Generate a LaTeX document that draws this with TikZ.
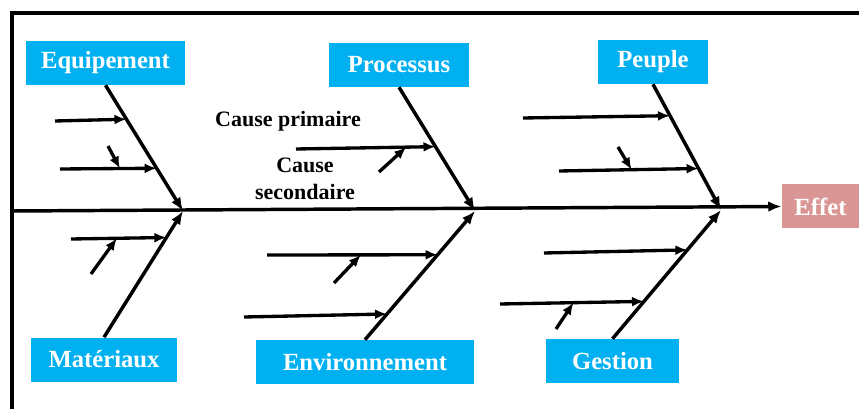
\documentclass[tikz,border=0pt]{standalone}
\usepackage{fontspec}
\setmainfont{Liberation Serif}
\usetikzlibrary{arrows.meta}

\definecolor{boxblue}{HTML}{00B0F0}
\definecolor{effetrose}{HTML}{D99694}

\tikzset{
  catbox/.style={fill=boxblue, text=white, font=\bfseries\fontsize{18.5}{20}\selectfont,
    minimum height=33pt, inner sep=0pt},
  effetbox/.style={catbox, fill=effetrose},
  bone/.style={line width=2.6pt, -{Latex[length=10pt,width=8pt]}},
  cause/.style={line width=2.5pt, -{Latex[length=9pt,width=7.5pt]}},
  causetext/.style={font=\bfseries\fontsize{16.5}{20}\selectfont, align=center, inner sep=0pt}
}

\begin{document}
\begin{tikzpicture}[x=0.75pt, y=-0.75pt]
  \useasboundingbox (0,0) rectangle (859,409);

  % cadre
  \draw[line width=2.6pt] (12,411) -- (12,13) -- (862,13);

  % categories
  \node[catbox, minimum width=119pt] (equip) at (105.5,63) {Equipement};
  \node[catbox, minimum width=105pt] (proc) at (399,65) {Processus};
  \node[catbox, minimum width=82.5pt] (peuple) at (653,62) {Peuple};
  \node[catbox, minimum width=109.5pt] (mat) at (104,359.5) {Matériaux};
  \node[catbox, minimum width=163.5pt] (env) at (365,362) {Environnement};
  \node[catbox, minimum width=100pt] (gest) at (612.5,361) {Gestion};
  \node[effetbox, minimum width=58pt] (effet) at (820.5,206.5) {Effet};

  % arete centrale
  \coordinate (dos) at (12,211);
  \coordinate (j1) at (183,211);
  \coordinate (j2) at (475,211);
  \coordinate (j3) at (721,210);
  \draw[bone] (dos) -- (effet.west);

  % aretes
  \draw[bone] (equip.south) -- coordinate[pos=0.27] (eqA) coordinate[pos=0.66] (eqB) (j1);
  \draw[bone] (mat.north) -- coordinate[pos=0.79] (matA) (j1);
  \draw[bone] (proc.south) -- coordinate[pos=0.48] (procA) (j2);
  \draw[bone] (env.north) -- coordinate[pos=0.66] (envA) coordinate[pos=0.20] (envB) (j2);
  \draw[bone] (peuple.south) -- coordinate[pos=0.25] (peuA) coordinate[pos=0.67] (peuB) (j3);
  \draw[bone] (gest.north) -- coordinate[pos=0.69] (gesA) coordinate[pos=0.29] (gesB) (j3);

  % causes primaires
  \coordinate (eqA0) at (55,121);
  \coordinate (eqB0) at (60,169);
  \coordinate (matA0) at (71,239);
  \coordinate (procA0) at (296,149);
  \coordinate (envA0) at (267,255);
  \coordinate (envB0) at (244,317);
  \coordinate (peuA0) at (523,118);
  \coordinate (peuB0) at (559,171);
  \coordinate (gesA0) at (544,253);
  \coordinate (gesB0) at (500,304);
  \draw[cause] (eqA0) -- (eqA);
  \draw[cause] (eqB0) -- coordinate[pos=0.62] (eqBs) (eqB);
  \draw[cause] (matA0) -- coordinate[pos=0.48] (matAs) (matA);
  \draw[cause] (procA0) -- coordinate[pos=0.79] (procAs) (procA);
  \draw[cause] (envA0) -- coordinate[pos=0.55] (envAs) (envA);
  \draw[cause] (envB0) -- (envB);
  \draw[cause] (peuA0) -- (peuA);
  \draw[cause] (peuB0) -- coordinate[pos=0.52] (peuBs) (peuB);
  \draw[cause] (gesA0) -- (gesA);
  \draw[cause] (gesB0) -- coordinate[pos=0.51] (gesBs) (gesB);

  % causes secondaires
  \coordinate (eqBs0) at (108,146);
  \coordinate (matAs0) at (91,274);
  \coordinate (procAs0) at (379,172);
  \coordinate (envAs0) at (334,283);
  \coordinate (peuBs0) at (618,147);
  \coordinate (gesBs0) at (556,329);
  \draw[cause] (eqBs0) -- (eqBs);
  \draw[cause] (matAs0) -- (matAs);
  \draw[cause] (procAs0) -- (procAs);
  \draw[cause] (envAs0) -- (envAs);
  \draw[cause] (peuBs0) -- (peuBs);
  \draw[cause] (gesBs0) -- (gesBs);

  % legendes
  \node[causetext] (prim) at (288,121) {Cause primaire};
  \node[causetext] (sec) at (305,179) {Cause\\secondaire};
\end{tikzpicture}
\end{document}
